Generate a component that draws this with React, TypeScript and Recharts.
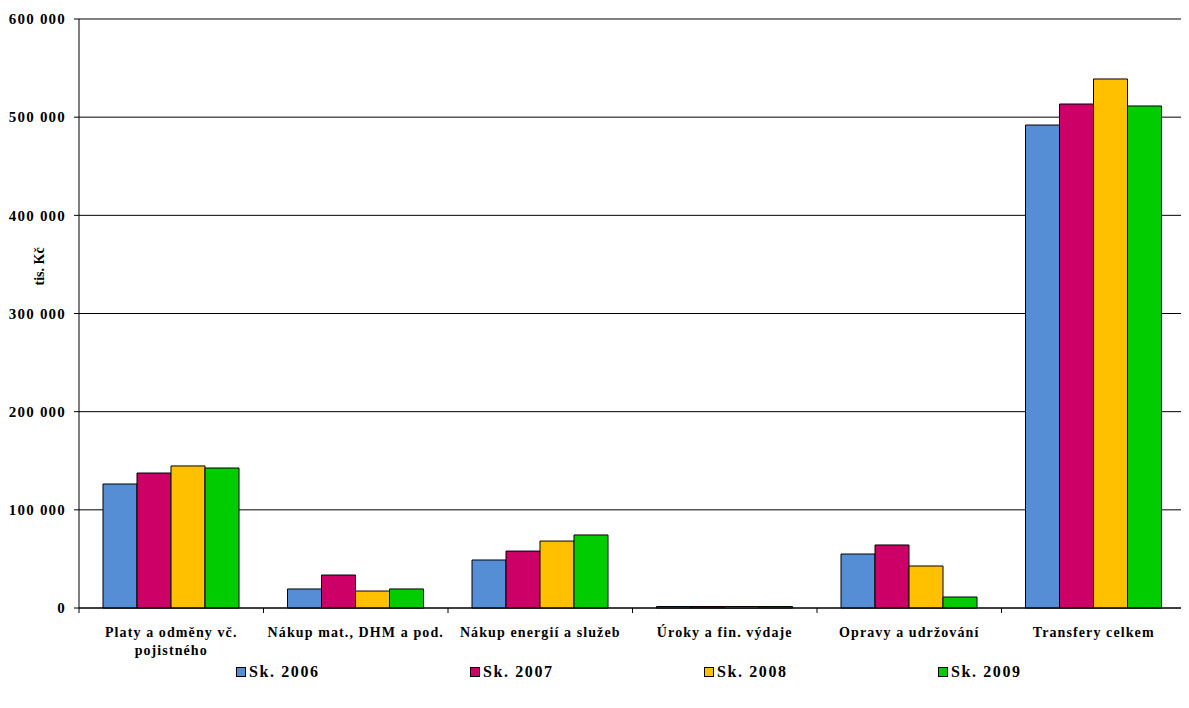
import { BarChart, Bar, XAxis, YAxis, CartesianGrid, Legend, Text } from 'recharts';

const categories = [
  'Platy a odměny vč. pojistného',
  'Nákup mat., DHM  a pod.',
  'Nákup energií a služeb',
  'Úroky a fin. výdaje',
  'Opravy a udržování',
  'Transfery celkem',
];

const sk2006 = [126300, 19400, 48900, 1500, 55000, 492000];
const sk2007 = [137500, 33600, 58000, 1500, 64200, 513400];
const sk2008 = [144700, 17300, 68200, 1500, 42800, 538900];
const sk2009 = [142600, 19400, 74400, 1500, 11200, 511400];

const yTicks = [0, 100000, 200000, 300000, 400000, 500000, 600000];

const series = [
  { key: 'sk2006', name: 'Sk. 2006', color: '#558ED5' },
  { key: 'sk2007', name: 'Sk. 2007', color: '#CC0066' },
  { key: 'sk2008', name: 'Sk. 2008', color: '#FFC000' },
  { key: 'sk2009', name: 'Sk. 2009', color: '#00CC00' },
];

const data = categories.map((name, i) => ({
  name,
  sk2006: sk2006[i],
  sk2007: sk2007[i],
  sk2008: sk2008[i],
  sk2009: sk2009[i],
}));

const FONT = 'Liberation Serif, DejaVu Serif, serif';

const fmt = (v: number) => String(v).replace(/\B(?=(\d{3})+(?!\d))/g, ' ');

function CategoryTick({ x, y, payload, index }: any) {
  const half = payload.offset || 0;
  return (
    <g>
      <line x1={x - half} x2={x - half} y1={y} y2={y + 5} stroke="#000" />
      {index === categories.length - 1 && <line x1={x + half} x2={x + half} y1={y} y2={y + 5} stroke="#000" />}
      <Text
        x={x}
        y={y + 19}
        width={200}
        textAnchor="middle"
        verticalAnchor="start"
        lineHeight={18}
        style={{ fontFamily: FONT, fontSize: 14, fontWeight: 'bold', letterSpacing: 1.1, fill: '#000' }}
      >
        {payload.value}
      </Text>
    </g>
  );
}

function YLabel({ viewBox }: any) {
  const cx = viewBox.x + 32;
  const cy = viewBox.y + viewBox.height * 0.42;
  return (
    <text
      x={cx}
      y={cy}
      transform={`rotate(-90 ${cx} ${cy})`}
      textAnchor="middle"
      dominantBaseline="central"
      style={{ fontFamily: FONT, fontSize: 14, fontWeight: 'bold', fill: '#000' }}
    >
      tis. Kč
    </text>
  );
}

function LegendContent() {
  return (
    <div style={{ display: 'flex', paddingLeft: 228, height: 24, alignItems: 'center' }}>
      {series.map((s) => (
        <div key={s.key} style={{ width: 234, display: 'flex', alignItems: 'center' }}>
          <span
            style={{
              display: 'inline-block',
              width: 8,
              height: 8,
              background: s.color,
              border: '1px solid #000',
              marginRight: 3,
            }}
          />
          <span style={{ fontFamily: FONT, fontSize: 16, fontWeight: 'bold', letterSpacing: 1.6 }}>{s.name}</span>
        </div>
      ))}
    </div>
  );
}

export default function App() {
  return (
    <BarChart
      width={1181}
      height={676}
      data={data}
      margin={{ top: 11, right: 3, left: 0, bottom: 0 }}
      barSize={34}
      barGap={0}
    >
      <CartesianGrid vertical={false} stroke="#000" strokeWidth={1} />
      <XAxis
        dataKey="name"
        interval={0}
        tickLine={false}
        tickSize={0}
        tickMargin={0}
        axisLine={{ stroke: '#000' }}
        tick={<CategoryTick />}
        height={52}
      />
      <YAxis
        domain={[0, 600000]}
        ticks={yTicks}
        width={71}
        tickFormatter={fmt}
        axisLine={{ stroke: '#000' }}
        tickLine={{ stroke: '#000' }}
        tickSize={5}
        tickMargin={8}
        tick={{ fontFamily: FONT, fontSize: 15, fontWeight: 'bold', fill: '#000', letterSpacing: 1.2 }}
        label={<YLabel />}
      />
      <Legend verticalAlign="bottom" content={<LegendContent />} />
      {series.map((s) => (
        <Bar
          key={s.key}
          dataKey={s.key}
          name={s.name}
          fill={s.color}
          stroke="#000"
          strokeWidth={1}
          isAnimationActive={false}
        />
      ))}
    </BarChart>
  );
}
